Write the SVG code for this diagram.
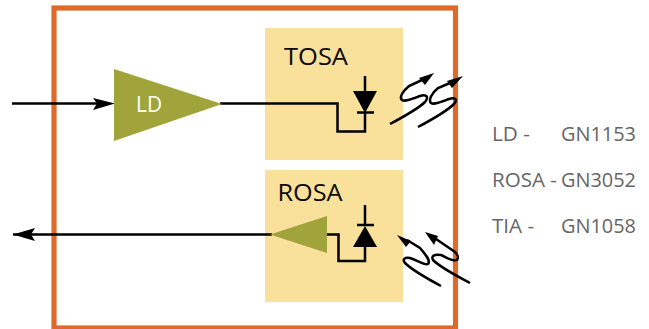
<svg xmlns="http://www.w3.org/2000/svg" width="649" height="329" viewBox="0 0 649 329">
<style>
.w{fill:none;stroke:#000;stroke-width:2.5}
.s{fill:none;stroke:#000;stroke-width:2.5;stroke-linecap:butt}
.k{fill:#000}
.t{font-family:"Open Sans","Noto Sans",sans-serif}
.g{font-size:19.500px;fill:#666}
.b{font-size:24px;fill:#0a0a0a}
.box{fill:#f9e09b}
.tri{fill:#a0a43a}
</style>
<rect width="649" height="329" fill="#fff"/>
<g id="module"><rect x="54" y="8" width="401.500" height="320" fill="none" stroke="#dd6a2a" stroke-width="5.200"/></g>
<g id="tosa"><rect class="box" x="265" y="28" width="138" height="132"/><text class="t b" x="284" y="64.500" textLength="64" lengthAdjust="spacingAndGlyphs">TOSA</text></g>
<g id="rosa"><rect class="box" x="265" y="170" width="138" height="132"/><text class="t b" x="277.500" y="200.500" textLength="65" lengthAdjust="spacingAndGlyphs">ROSA</text></g>
<g id="connectors">
<path class="w" d="M12 103.500H100"/>
<path class="k" d="M93 98L115 103.500L93 110L97 103.500Z"/>
<path class="w" d="M220 103.500H337.500V131.500H365V113"/>
<path class="w" d="M13 234.500H272"/>
<path class="k" d="M13 234.500L35 228L31 234.500L35 241Z"/>
<path class="w" d="M327 234.500H338.500V261H365V240"/>
</g>
<g id="ld"><path class="tri" d="M114 69V141L222 104Z"/><text class="t" x="136" y="112" font-size="21" fill="#fff" textLength="26" lengthAdjust="spacingAndGlyphs">LD</text></g>
<g id="tia"><path class="tri" d="M270 234.500L327 216V253Z"/></g>
<g id="laser-diode">
<path class="k" d="M353 91H377L365 113Z"/>
<path class="w" d="M365 76V91M357 112.500H374"/>
</g>
<g id="photo-diode">
<path class="k" d="M353 247H377L365 226Z"/>
<path class="w" d="M365 205V226M357 225H374"/>
</g>
<g id="light-out">
<path class="s" d="M390 124C405 116 420 107 425 102C429 97 427 94 420 96C412 99 405 102 402 100C399 97 403 91 409 86L422 80"/>
<path class="k" d="M434 73L419 78L425 85Z"/>
<path class="s" d="M418 127C433 119 449 109 454 104C458 99 455 97 449 99C441 102 434 105 431 103C428 100 432 93 438 88L450 83"/>
<path class="k" d="M463 76L447 81L452 88Z"/>
</g>
<g id="light-in">
<path class="s" d="M441 286C428 279 412 270 405 263C402 259 405 257 410 258C417 260 425 266 428 264C431 261 426 255 420 248L407 240"/>
<path class="k" d="M397 235L411 241L406 247Z"/>
<path class="s" d="M470 283C457 276 441 268 433 260C431 256 434 254 441 255C446 257 453 262 457 260C459 257 458 255 455 252L436 239"/>
<path class="k" d="M425 232L438 236L434 245Z"/>
</g>
<g id="legend">
<text class="t g" x="492" y="141" textLength="38" lengthAdjust="spacingAndGlyphs">LD -</text><text class="t g" x="561" y="141" textLength="75" lengthAdjust="spacingAndGlyphs">GN1153</text>
<text class="t g" x="492" y="187" textLength="65" lengthAdjust="spacingAndGlyphs">ROSA -</text><text class="t g" x="561" y="187" textLength="75" lengthAdjust="spacingAndGlyphs">GN3052</text>
<text class="t g" x="492" y="233" textLength="42" lengthAdjust="spacingAndGlyphs">TIA -</text><text class="t g" x="561" y="233" textLength="75" lengthAdjust="spacingAndGlyphs">GN1058</text>
</g>
</svg>
